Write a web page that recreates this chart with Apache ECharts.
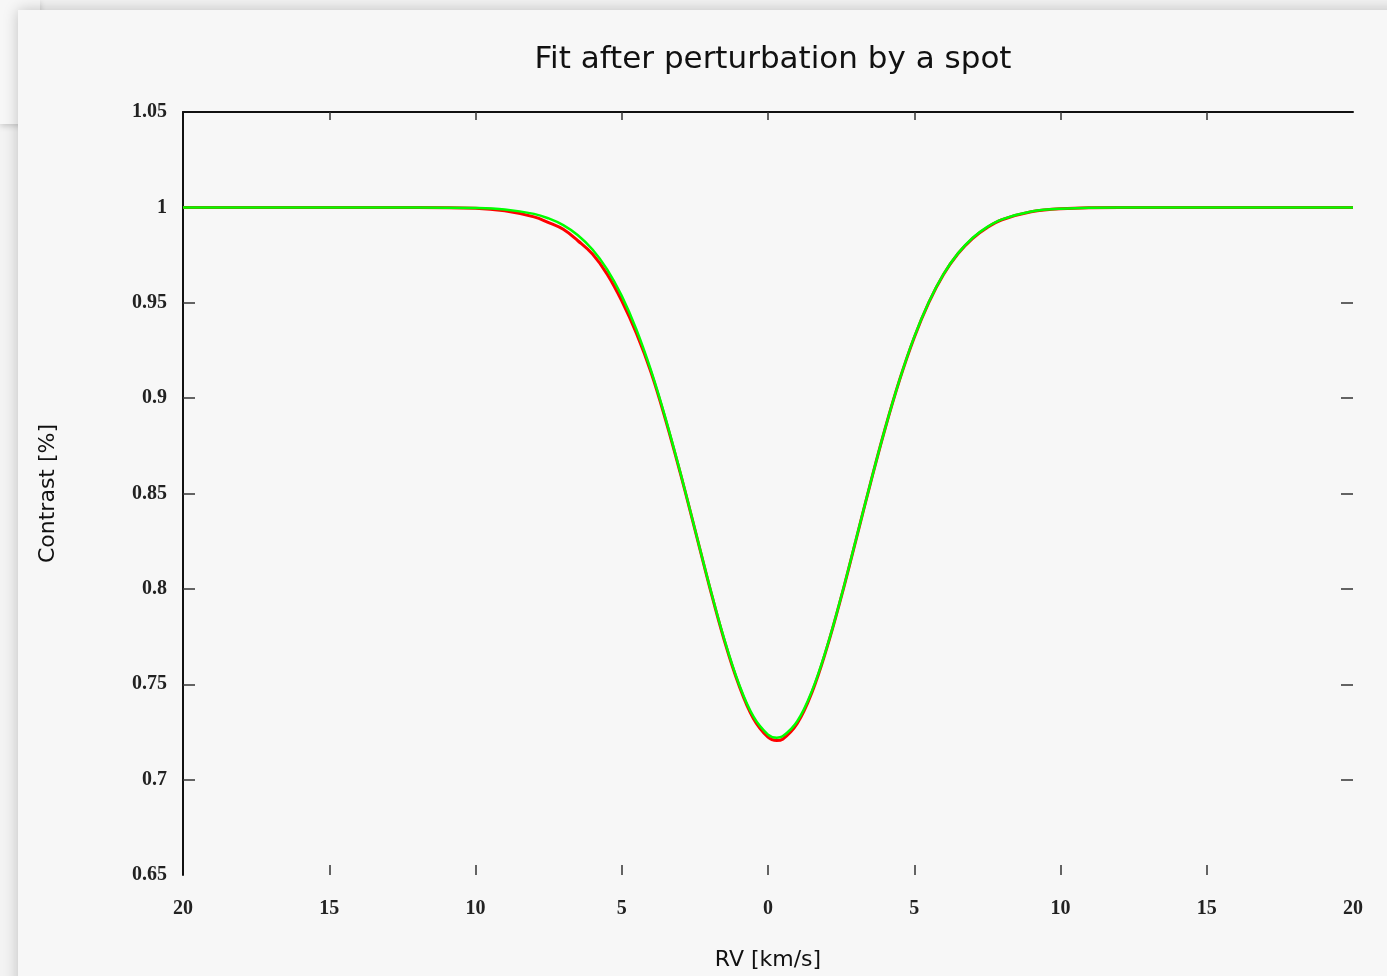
<!DOCTYPE html>
<html>
<head>
<meta charset="utf-8">
<script src="https://cdn.jsdelivr.net/npm/echarts@6/dist/echarts.min.js"></script>
<style>
  html, body { margin: 0; padding: 0; width: 1387px; height: 976px; overflow: hidden; background: #f3f3f3; }
  #back { position: absolute; left: 0; top: 0; width: 40px; height: 124px; background: #f7f7f7; box-shadow: 0 2px 6px rgba(0,0,0,0.18); }
  #frame { position: absolute; left: 18px; top: 10px; width: 1400px; height: 1000px; background: #f7f7f7; box-shadow: 0 0 14px rgba(0,0,0,0.22); }
  #chart { position: absolute; left: 0; top: 0; width: 1387px; height: 976px; }
</style>
</head>
<body>
<div id="back"></div>
<div id="frame"></div>
<div id="chart"></div>
<script>
// RV values (km/s)
const rv = [-20, -12, -10, -9, -8, -7.5, -7, -6.5, -6, -5.5, -5, -4.5, -4, -3.5, -3, -2.5, -2, -1.5, -1, -0.5, 0, 0.3, 0.5, 1, 1.5, 2, 2.5, 3, 3.5, 4, 4.5, 5, 5.5, 6, 6.5, 7, 7.5, 8, 9, 10, 12, 20];
// Perturbed profile (red)
const perturbed = [1, 1, 0.9996, 0.9982, 0.9950, 0.9920, 0.9885, 0.9825, 0.9755, 0.9650, 0.9510, 0.9340, 0.9135, 0.8885, 0.8608, 0.8312, 0.8012, 0.7733, 0.7497, 0.7320, 0.7222, 0.7205, 0.7212, 0.7294, 0.7456, 0.7684, 0.7955, 0.8252, 0.8552, 0.8838, 0.9096, 0.9318, 0.9502, 0.9648, 0.9758, 0.9838, 0.9895, 0.9935, 0.9977, 0.9993, 1, 1];
// Fitted profile (green)
const fitted = [1, 1, 0.9997, 0.9989, 0.9966, 0.9942, 0.9907, 0.9854, 0.9779, 0.9675, 0.9536, 0.9360, 0.9145, 0.8893, 0.8612, 0.8314, 0.8016, 0.7739, 0.7504, 0.7331, 0.7236, 0.7220, 0.7227, 0.7306, 0.7464, 0.7688, 0.7958, 0.8254, 0.8553, 0.8839, 0.9097, 0.9321, 0.9504, 0.9650, 0.9760, 0.9841, 0.9898, 0.9937, 0.9978, 0.9993, 1, 1];

const xInnerTicks = [-15, -10, -5, 0, 5, 10, 15];
const yInnerTicks = [0.7, 0.75, 0.8, 0.85, 0.9, 0.95, 1];

const chart = echarts.init(document.getElementById('chart'), null, { renderer: 'canvas' });
const tickStyle = { color: '#333', width: 1.5 };
const labelFont = { color: '#222', fontFamily: 'Liberation Serif, DejaVu Serif, serif', fontSize: 20, fontWeight: 'bold' };
chart.setOption({
  backgroundColor: 'transparent',
  animation: false,
  title: {
    text: 'Fit after perturbation by a spot',
    left: 768, top: 39, textAlign: 'center',
    textStyle: { fontFamily: 'DejaVu Sans, sans-serif', fontSize: 31, fontWeight: 'normal', color: '#111' }
  },
  grid: { left: 183, right: 34, top: 112, bottom: 101, outerBoundsMode: 'none', containLabel: false },
  xAxis: [{
    type: 'value', min: -20, max: 20, interval: 5, position: 'bottom',
    axisLine: { show: false, onZero: false },
    axisTick: { show: true, inside: true, length: 10, lineStyle: tickStyle, customValues: xInnerTicks },
    splitLine: { show: false },
    axisLabel: { margin: 24, formatter: v => String(Math.abs(v)), ...labelFont },
    name: 'RV [km/s]', nameLocation: 'middle', nameGap: 74,
    nameTextStyle: { fontFamily: 'DejaVu Sans, sans-serif', fontSize: 22, color: '#111' }
  }, {
    type: 'value', min: -20, max: 20, interval: 5, position: 'top',
    axisLine: { show: true, onZero: false, lineStyle: { color: '#111', width: 2 } },
    axisTick: { show: true, inside: true, length: 8, lineStyle: tickStyle, customValues: xInnerTicks },
    axisLabel: { show: false }, splitLine: { show: false }
  }],
  yAxis: [{
    type: 'value', min: 0.65, max: 1.05, interval: 0.05, position: 'left',
    axisLine: { show: true, onZero: false, lineStyle: { color: '#111', width: 2 } },
    axisTick: { show: true, inside: true, length: 12, lineStyle: tickStyle, customValues: yInnerTicks },
    splitLine: { show: false },
    axisLabel: { margin: 16, formatter: v => String(Math.round(v * 100) / 100), ...labelFont },
    name: 'Contrast [%]', nameLocation: 'middle', nameGap: 124, nameRotate: 90,
    nameTextStyle: { fontFamily: 'DejaVu Sans, sans-serif', fontSize: 22, color: '#111' }
  }, {
    type: 'value', min: 0.65, max: 1.05, interval: 0.05, position: 'right',
    axisLine: { show: false, onZero: false },
    axisTick: { show: true, inside: true, length: 12, lineStyle: tickStyle, customValues: yInnerTicks },
    axisLabel: { show: false }, splitLine: { show: false }
  }],
  series: [{
    name: 'perturbed', type: 'line', smooth: 0.4, symbol: 'none',
    data: rv.map((x, i) => [x, perturbed[i]]),
    lineStyle: { color: '#ff0000', width: 3 }
  }, {
    name: 'fit', type: 'line', smooth: 0.4, symbol: 'none',
    data: rv.map((x, i) => [x, fitted[i]]),
    lineStyle: { color: '#00ff00', width: 2.5 }
  }]
});
</script>
</body>
</html>
